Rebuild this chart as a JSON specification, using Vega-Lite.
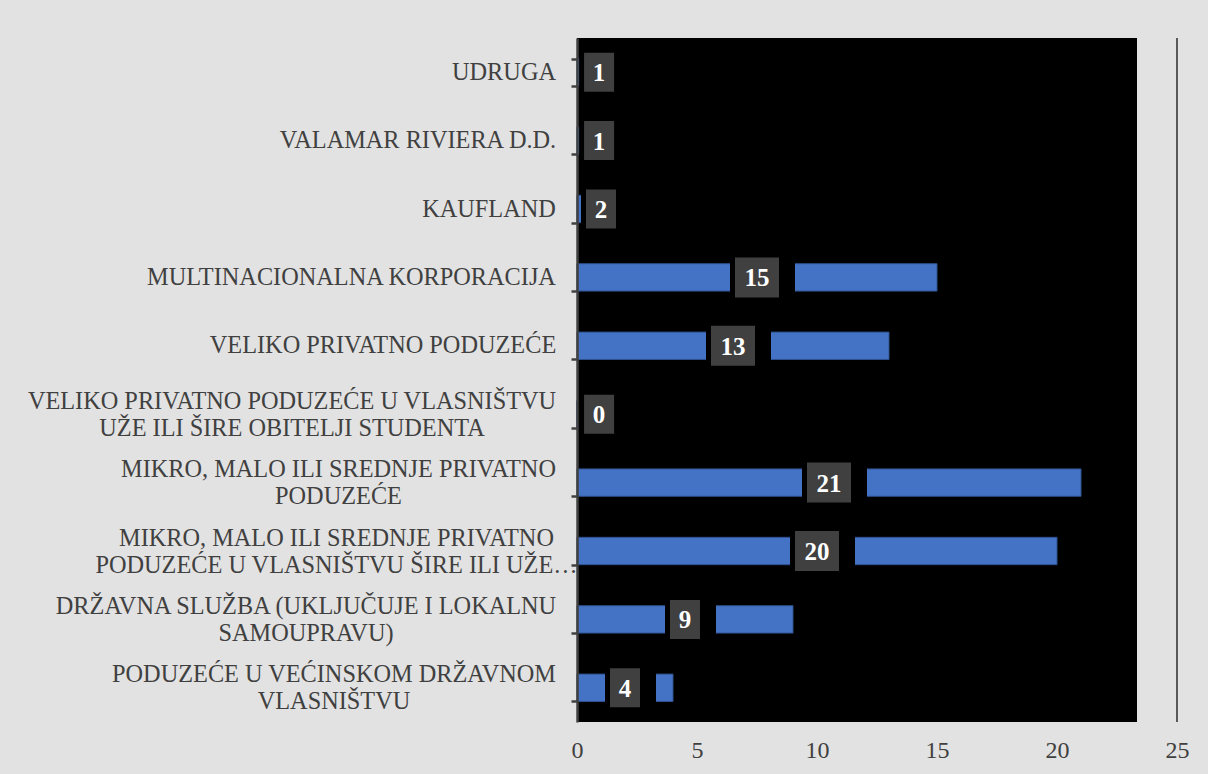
{
  "$schema": "https://vega.github.io/schema/vega-lite/v6.json",
  "autosize": {"type": "none"},
  "width": 600,
  "height": 684,
  "padding": {"left": 577, "top": 38, "right": 31, "bottom": 52},
  "background": "#e2e2e2",
  "config": {"view": {"stroke": null}},
  "data": {
    "values": [
      {"kategorija": "UDRUGA", "broj": 1},
      {"kategorija": "VALAMAR RIVIERA D.D.", "broj": 1},
      {"kategorija": "KAUFLAND", "broj": 2},
      {"kategorija": "MULTINACIONALNA KORPORACIJA", "broj": 15},
      {"kategorija": "VELIKO PRIVATNO PODUZEĆE", "broj": 13},
      {"kategorija": "VELIKO PRIVATNO PODUZEĆE U VLASNIŠTVU\nUŽE ILI ŠIRE OBITELJI STUDENTA", "broj": 0},
      {"kategorija": "MIKRO, MALO ILI SREDNJE PRIVATNO\nPODUZEĆE", "broj": 21},
      {"kategorija": "MIKRO, MALO ILI SREDNJE PRIVATNO\nPODUZEĆE U VLASNIŠTVU ŠIRE ILI UŽE…", "broj": 20},
      {"kategorija": "DRŽAVNA SLUŽBA (UKLJUČUJE I LOKALNU\nSAMOUPRAVU)", "broj": 9},
      {"kategorija": "PODUZEĆE U VEĆINSKOM DRŽAVNOM\nVLASNIŠTVU", "broj": 4}
    ]
  },
  "transform": [
    {"calculate": "max(datum.broj / 2, 0.92)", "as": "sredina"}
  ],
  "encoding": {
    "y": {
      "field": "kategorija",
      "type": "nominal",
      "sort": null,
      "scale": {"paddingInner": 0.6, "paddingOuter": 0.3},
      "axis": {
        "title": null,
        "orient": "left",
        "zindex": 1,
        "domainColor": "#404040",
        "domainWidth": 2.5,
        "tickBand": "extent",
        "tickColor": "#404040",
        "tickWidth": 2.5,
        "tickSize": 6,
        "labelPadding": {
          "condition": [
            {"test": "!isString(datum.value)", "value": 16},
            {"test": "datum.value == 'UDRUGA'", "value": 67.5},
            {"test": "indexof(datum.value, 'VALAMAR') >= 0", "value": 153.5},
            {"test": "indexof(datum.value, 'KAUFLAND') >= 0", "value": 82.5},
            {"test": "indexof(datum.value, 'MULTINACIONALNA') >= 0", "value": 220},
            {"test": "datum.value == 'VELIKO PRIVATNO PODUZEĆE'", "value": 188.5},
            {"test": "indexof(datum.value, 'STUDENTA') >= 0", "value": 279.5},
            {"test": "indexof(datum.value, 'UŽE…') >= 0", "value": 235},
            {"test": "indexof(datum.value, 'MIKRO') >= 0", "value": 233},
            {"test": "indexof(datum.value, 'DRŽAVNA SLUŽBA') >= 0", "value": 265.5},
            {"test": "indexof(datum.value, 'VEĆINSKOM') >= 0", "value": 237.5}
          ],
          "value": 16
        },
        "labelFont": "Liberation Serif",
        "labelFontSize": 24.3,
        "labelColor": "#404040",
        "labelLimit": 700,
        "labelAlign": "center",
        "labelBaseline": "middle",
        "labelLineHeight": 27,
        "labelOffset": {
          "condition": {"test": "isString(datum.value) && indexof(datum.value, '\\n') >= 0", "value": -13},
          "value": 0
        },
        "labelExpr": "isString(datum.value) ? split(datum.value, '\\n') : ''"
      }
    }
  },
  "layer": [
    {
      "mark": {"type": "rect", "color": "#000000"},
      "encoding": {
        "y": null,
        "x": {"datum": 0, "type": "quantitative"},
        "x2": {"datum": 23.33}
      }
    },
    {
      "mark": {"type": "rule", "color": "#5a5a5a", "strokeWidth": 2},
      "encoding": {
        "y": null,
        "x": {"datum": 25, "type": "quantitative"}
      }
    },
    {
      "mark": {"type": "bar", "color": "#4472C4", "stroke": "#2F528F", "strokeWidth": 1},
      "encoding": {
        "x": {
          "field": "broj",
          "type": "quantitative",
          "scale": {"domain": [0, 25], "nice": false, "zero": true},
          "axis": {
            "title": null,
            "orient": "bottom",
            "values": [0, 5, 10, 15, 20, 25],
            "domain": false,
            "ticks": false,
            "grid": false,
            "labelFont": "Liberation Serif",
            "labelFontSize": 24,
            "labelColor": "#404040",
            "labelPadding": 16,
            "labelFlush": false
          }
        }
      }
    },
    {
      "mark": {"type": "point", "filled": true, "color": "#000000", "opacity": 1, "xOffset": 5.5},
      "encoding": {
        "x": {"field": "sredina", "type": "quantitative"},
        "shape": {
          "condition": {"test": "datum.broj >= 10", "value": "M-1,-0.49L1,-0.49L1,0.49L-1,0.49Z"},
          "value": "M-1,-0.63L1,-0.63L1,0.63L-1,0.63Z"
        },
        "size": {
          "condition": {"test": "datum.broj >= 10", "value": 4225},
          "value": 2601
        }
      }
    },
    {
      "mark": {"type": "point", "filled": true, "color": "#404040", "opacity": 1},
      "encoding": {
        "x": {"field": "sredina", "type": "quantitative"},
        "shape": {
          "condition": {"test": "datum.broj >= 10", "value": "M-1,-0.91L1,-0.91L1,0.91L-1,0.91Z"},
          "value": "M-1,-1.3L1,-1.3L1,1.3L-1,1.3Z"
        },
        "size": {
          "condition": {"test": "datum.broj >= 10", "value": 1936},
          "value": 900
        }
      }
    },
    {
      "mark": {
        "type": "text",
        "font": "Liberation Serif",
        "fontSize": 25,
        "fontWeight": "bold",
        "color": "#ffffff",
        "align": "center",
        "baseline": "middle",
        "dy": 1
      },
      "encoding": {
        "x": {"field": "sredina", "type": "quantitative"},
        "text": {"field": "broj", "type": "quantitative"}
      }
    }
  ]
}
